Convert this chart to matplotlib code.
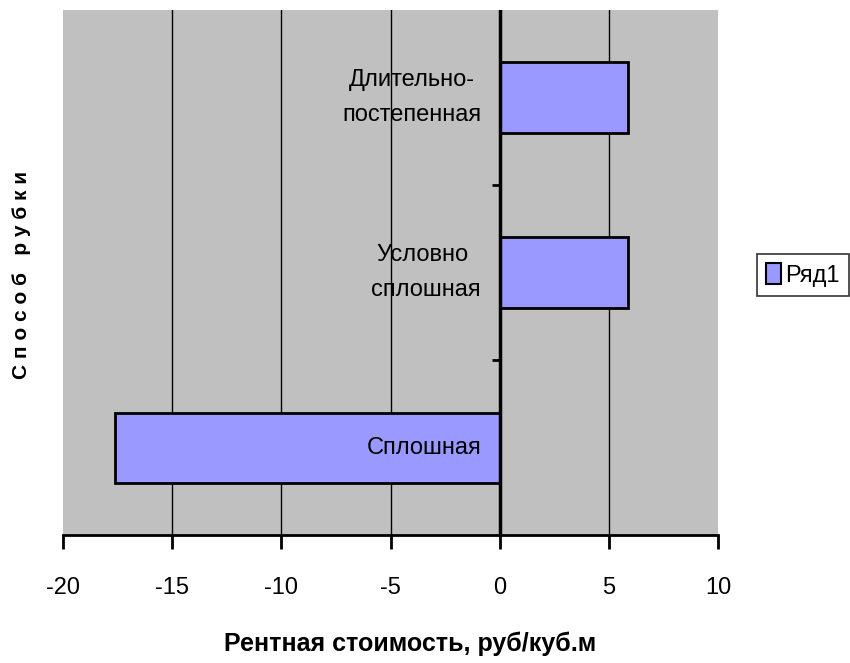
import matplotlib
matplotlib.use("Agg")
import matplotlib.pyplot as plt
from matplotlib import font_manager
from matplotlib.patches import Patch

names = {f.name for f in font_manager.fontManager.ttflist}
narrow = 'Liberation Sans Narrow' if 'Liberation Sans Narrow' in names else 'Liberation Sans'

categories = ["Сплошная", "Условно \nсплошная", "Длительно-\nпостепенная"]
values = [-17.6, 5.9, 5.9]
series_name = "Ряд1"
xticks = [-20, -15, -10, -5, 0, 5, 10]

fig = plt.figure(figsize=(8.5, 6.63), dpi=100)
ax = fig.add_axes([63/850, 1-535/663, (718-63)/850, (535-10)/663])
ax.set_facecolor('#C0C0C0')

pos = list(range(len(categories)))
ax.barh(pos, values, height=0.4, color='#9999FF', edgecolor='black', linewidth=2, zorder=3)
ax.set_xlim(-20, 10)
ax.set_ylim(-0.5, len(categories) - 0.5)

for x in xticks[1:-1]:
    if x != 0:
        ax.axvline(x, color='black', lw=1, zorder=1)
ax.axvline(0, color='black', lw=2.5, zorder=4)
# category boundary ticks on the value-zero axis
for b in [0.5, 1.5]:
    ax.plot([-0.35, 0], [b, b], color='black', lw=2, zorder=4, solid_capstyle='butt')

for p, c in zip(pos, categories):
    ax.text(-0.85, p, c, ha='right', va='center', multialignment='center',
            fontsize=17, family=[narrow, 'DejaVu Sans'], zorder=5, linespacing=1.75)

ax.set_yticks([])
ax.set_xticks(xticks)
ax.set_xticklabels([str(t) for t in xticks], fontsize=17, family=[narrow, 'DejaVu Sans'])
ax.tick_params(axis='x', length=10, width=2, pad=20, color='black')
for s in ['top', 'right', 'left']:
    ax.spines[s].set_visible(False)
ax.spines['bottom'].set_linewidth(2)

fig.text(410/850, 1-644/663, "Рентная стоимость, руб/куб.м", ha='center', va='center',
         fontsize=18, fontweight='bold', family=[narrow, 'DejaVu Sans'])
fig.text(22/850, 1-275/663, "С п о с о б   р у б к и", ha='center', va='center',
         rotation=90, fontsize=15, fontweight='bold', family=['Liberation Sans', 'DejaVu Sans'])

handle = Patch(facecolor='#9999FF', edgecolor='black', linewidth=1.5)
leg = fig.legend([handle], [series_name], loc='center left', bbox_to_anchor=(757/850, 1-275/663),
                 frameon=True, fancybox=False, edgecolor='black', prop={'family': narrow, 'size': 17},
                 handlelength=0.6, handleheight=1.0, handletextpad=0.2, borderpad=0.4, borderaxespad=0)
leg.get_frame().set_linewidth(1.2)

fig.savefig('out.png', dpi=100, facecolor='white')
